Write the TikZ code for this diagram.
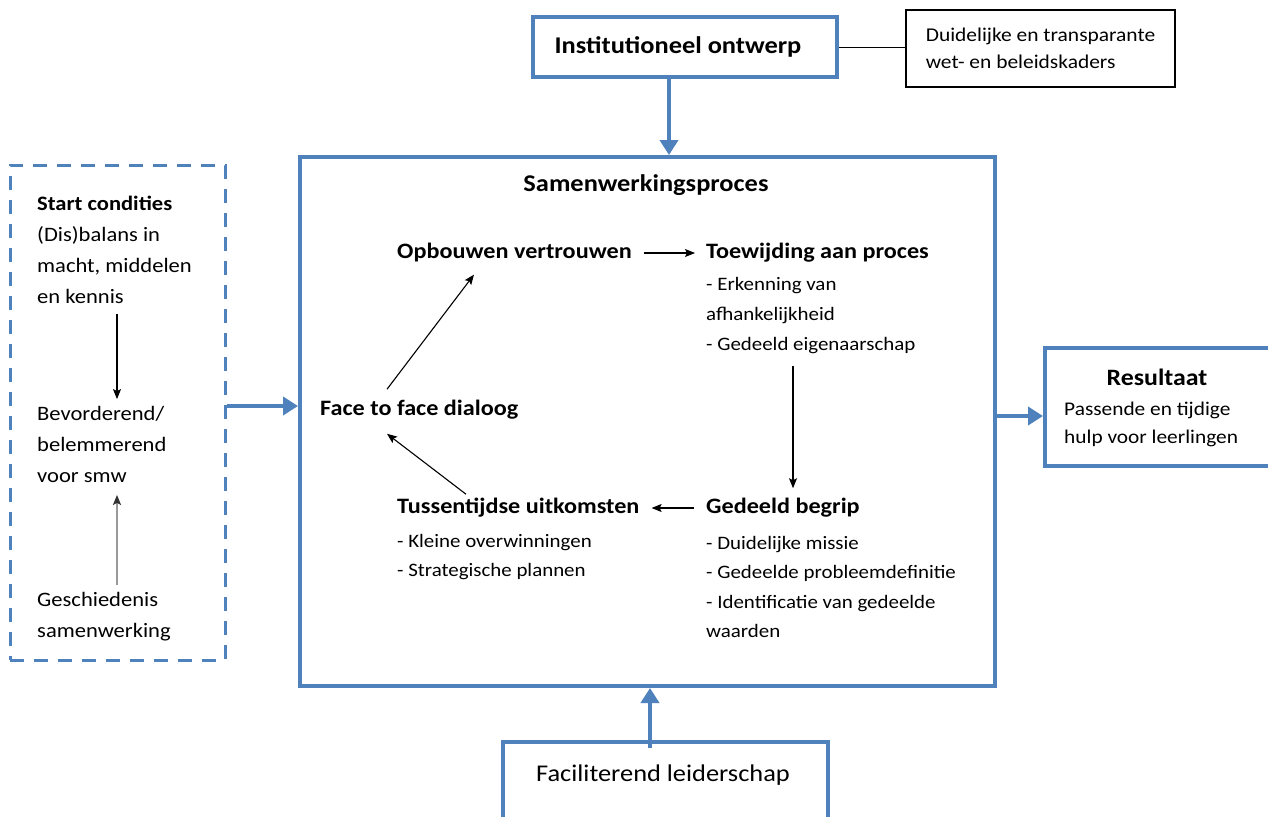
\documentclass[tikz,border=0pt]{standalone}
\usepackage{fontspec}
\setmainfont{Carlito}[FakeStretch=1.1]
\usetikzlibrary{arrows.meta}
\definecolor{wordblue}{RGB}{79,129,189}
\newcommand\fsz[2]{\fontsize{#1}{#2}\selectfont}

\tikzset{
  bluebox/.style={draw=wordblue, line width=4pt, fill=white, inner sep=0pt},
  dashbox/.style={draw=wordblue, line width=3pt, dash pattern=on 14pt off 10pt, inner sep=0pt},
  thinbox/.style={draw=black, line width=1.1pt, inner sep=0pt},
  bigarrow/.style={draw=wordblue, line width=4.5pt, -{Triangle[width=18pt,length=15pt]}},
  thinarrow/.style={draw=black, line width=1.1pt, -{Stealth[width=8pt,length=10pt,inset=2pt]}},
  greyarrow/.style={draw=black!40, line width=1.8pt, -{Stealth[width=8pt,length=10pt,inset=2pt,color=black!80]}},
  head/.style={anchor=west, inner sep=0pt, font=\fsz{22}{26}\bfseries},
  items/.style={anchor=west, inner sep=0pt, align=left, font=\fsz{19}{30}},
  lefttxt/.style={anchor=west, inner sep=0pt, align=left, font=\fsz{20.5}{31}},
}

\begin{document}
\begin{tikzpicture}[x=1pt,y=-1pt]
\useasboundingbox (0,0) rectangle (1268,816);
\clip (0,0) rectangle (1268,816);
\fill[white] (0,0) rectangle (1268,816);

% helper x / y positions for straight connectors
\coordinate (ax) at (669,0);
\coordinate (fx) at (650,0);
\coordinate (lx) at (117,0);
\coordinate (vx) at (793,0);
\coordinate (ly) at (0,406);
\coordinate (ry) at (0,416);

% top boxes
\node[bluebox, minimum width=304, minimum height=60, font=\fsz{24}{28}\bfseries]
  (inst) at (685,47) {\hspace*{-14pt}Institutioneel ontwerp};
\node[thinbox, minimum width=269, minimum height=77, align=left, font=\fsz{19.5}{27}]
  (duid) at (1040.5,48.5) {Duidelijke en transparante\\wet- en beleidskaders};

% main process frame
\node[bluebox, minimum width=695, minimum height=529] (proc) at (647.5,421.5) {};
\node[inner sep=0pt, font=\fsz{24}{28}\bfseries] (title) at (646,185) {Samenwerkingsproces};

% starting conditions
\node[dashbox, minimum width=215, minimum height=495] (cond) at (117.5,412.5) {};
\node[lefttxt] (start) at (37,250) {\textbf{Start condities}\\(Dis)balans in\\macht, middelen\\en kennis};
\node[lefttxt] (bev) at (37,444.5) {Bevorderend/\\belemmerend\\voor smw};
\node[lefttxt] (gesch) at (37,617) {Geschiedenis\\samenwerking};

% result box
\node[bluebox, minimum width=240, minimum height=118] (res) at (1165,407) {};
\node[inner sep=0pt, font=\fsz{23.5}{28}\bfseries] (restitle) at (1157,377) {Resultaat};
\node[inner sep=0pt, anchor=west, align=left, font=\fsz{19.4}{28}] (restxt) at (1064,424)
  {Passende en tijdige\\hulp voor leerlingen};

% facilitating leadership box
\node[bluebox, line width=3.5pt, minimum width=325, minimum height=116] (facil) at (665.5,800) {};
\node[inner sep=0pt, font=\fsz{24}{28}] (faciltxt) at (663,775) {Faciliterend leiderschap};

% cycle stages
\node[head] (opb) at (397,253) {Opbouwen vertrouwen};
\node[head] (toew) at (706,253) {Toewijding aan proces};
\node[items] (toewsub) at (706,315.5) {- Erkenning van\\afhankelijkheid\\- Gedeeld eigenaarschap};
\node[head] (begrip) at (706,508) {Gedeeld begrip};
\node[items, font=\fsz{19}{29.3}] (begripsub) at (706,587)
  {- Duidelijke missie\\- Gedeelde probleemdefinitie\\- Identificatie van gedeelde\\waarden};
\node[head] (tuss) at (397,508) {Tussentijdse uitkomsten};
\node[items, font=\fsz{19}{29}] (tusssub) at (397,557.5) {- Kleine overwinningen\\- Strategische plannen};
\node[head] (face) at (320,410) {Face to face dialoog};

% connectors between the outer blocks
\draw[thin, black] (inst.east) -- (inst.east -| duid.west);
\draw[bigarrow] (inst.south -| ax) -- (proc.north -| ax);
\draw[bigarrow] (cond.east |- ly) -- (proc.west |- ly);
\draw[bigarrow] (proc.east |- ry) -- (res.west |- ry);
\draw[bigarrow] ([yshift=-8pt]facil.north -| fx) -- (proc.south -| fx);

% connectors in the starting conditions
\draw[thinarrow, shorten <=10pt, shorten >=7pt] (start.south -| lx) -- (bev.north -| lx);
\draw[greyarrow, shorten <=7pt, shorten >=12pt] (gesch.north -| lx) -- (bev.south -| lx);

% the collaboration cycle
\draw[thinarrow, shorten <=12pt, shorten >=11pt] (opb.east) -- (toew.west);
\draw[thinarrow, shorten <=12pt, shorten >=10pt] (toewsub.south -| vx) -- (begrip.north -| vx);
\draw[thinarrow, shorten <=12pt, shorten >=12pt] (begrip.west) -- (tuss.east);
\draw[thinarrow] ([xshift=69pt,yshift=4pt]tuss.north west) -- ([xshift=67pt,yshift=-14pt]face.south west);
\draw[thinarrow] ([xshift=67pt,yshift=11pt]face.north west) -- ([xshift=77pt,yshift=-12pt]opb.south west);
\end{tikzpicture}
\end{document}
